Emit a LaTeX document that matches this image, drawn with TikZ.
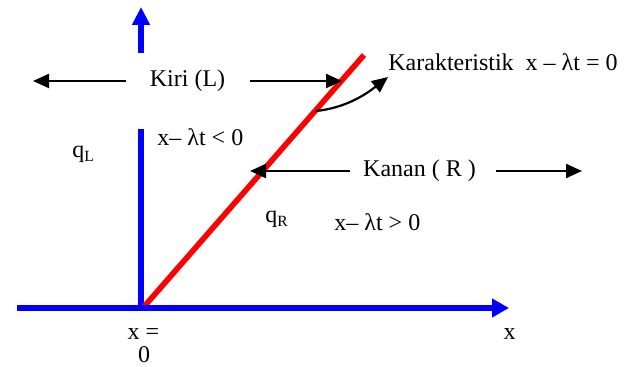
\documentclass[tikz,border=0pt]{standalone}
\usepackage{fontspec}
\setmainfont{Liberation Serif}
\usetikzlibrary{arrows.meta}
\newcommand\lowsub[1]{\raisebox{-2pt}{\fontsize{7.8}{8}\selectfont #1}}
\begin{document}
\begin{tikzpicture}[x=0.5pt,y=-0.5pt,
  every node/.style={font=\fontsize{12}{13}\selectfont, inner sep=0pt},
  blueax/.style={draw=blue, line width=2.7pt},
  redline/.style={draw=red, line width=2.8pt},
  arr/.style={draw=black, line width=1.1pt, -{Triangle[length=8pt,width=7pt]}},
  lbl/.style={anchor=base west}
]
\useasboundingbox (0,0) rectangle (636,367);
% axes
\coordinate (O) at (141,308);
\coordinate (vtop) at (141,129);
\coordinate (xl) at (17,308);
\coordinate (xr) at (509,308);
\coordinate (redb) at (142,309);
\coordinate (redt) at (364,55);
\coordinate (tb) at (141,53);
\coordinate (tt) at (141,7);
\draw[blueax] (vtop) -- (O);
\draw[redline] (redb) -- (redt);
\draw[blueax, -{Triangle[length=8.5pt,width=9pt]}] (xl) -- (xr);
\draw[draw=blue, line width=2.9pt, -{Triangle[length=9pt,width=8.5pt]}] (tb) -- (tt);
% labels
\node (kiri) at (187.5,81) {Kiri (L)};
\coordinate (kiriLtip) at (33,81);
\coordinate (kiriRtip) at (342,81);
\draw[arr] (kiri.west -| 126,0) -- (kiriLtip);
\draw[arr] (kiri.east -| 250,0) -- (kiriRtip);
\node (kanan) at (419.5,171) {Kanan ( R )};
\coordinate (kananLtip) at (250,171);
\coordinate (kananRtip) at (582,171);
\draw[arr] (kanan.west -| 350,0) -- (kananLtip);
\draw[arr] (kanan.east -| 496,0) -- (kananRtip);
\node[lbl] (kar) at (388,70.5) {Karakteristik\ \ x – λt = 0};
\coordinate (cs) at (316,111);
\draw[arr] (cs) .. controls (345,108) and (365,95) .. (kar.west |- 0,77);
\node[lbl] (qL) at (72,158) {q\lowsub{L}};
\node[lbl] (lt) at (157,146) {x– λt < 0};
\node[lbl] (qR) at (265,223) {q\lowsub{R}};
\node[lbl] (gt) at (334,230.5) {x– λt > 0};
\node[anchor=base] (x0a) at (143.5,340) {x =};
\node[anchor=base] (x0b) at (144,363) {0};
\node[anchor=base] (xlab) at (509.5,340) {x};
\end{tikzpicture}
\end{document}
